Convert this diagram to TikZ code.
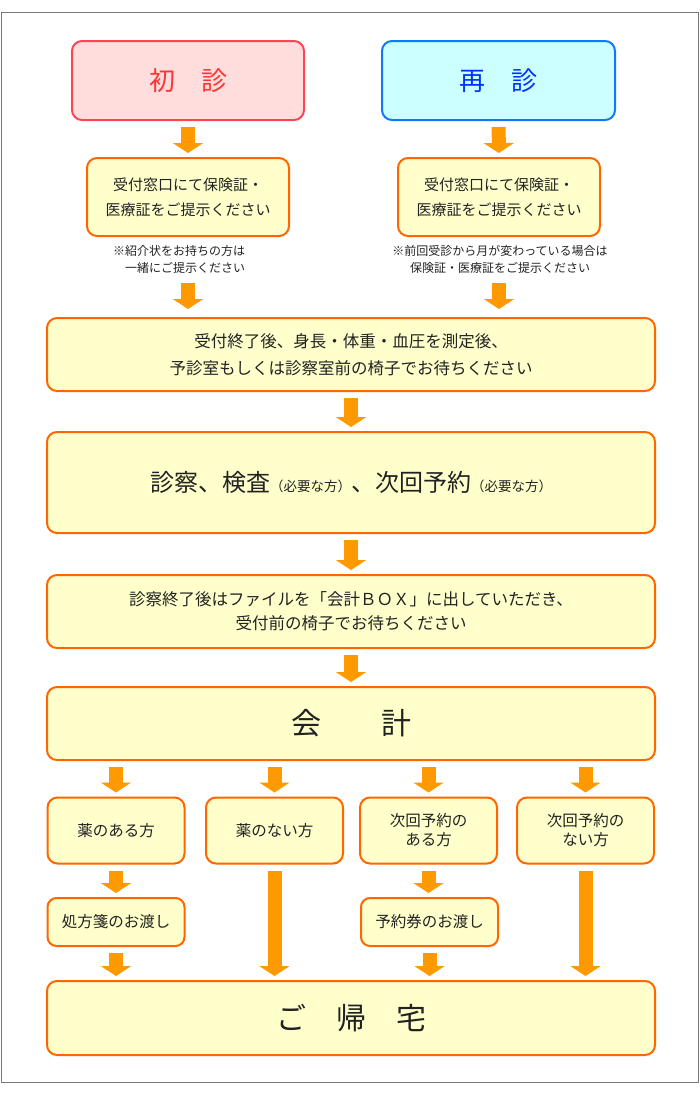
\documentclass[tikz,border=0pt]{standalone}
\usepackage{fontspec}
\setmainfont{Noto Sans CJK JP}
\usetikzlibrary{arrows.meta}
\usetikzlibrary{math}

\definecolor{framec}{HTML}{777777}
\definecolor{boxfill}{HTML}{FFFFCC}
\definecolor{boxline}{HTML}{FF6600}
\definecolor{arrowc}{HTML}{FF9900}
\definecolor{textc}{HTML}{222222}
\definecolor{firstfill}{HTML}{FFDDDD}
\definecolor{firstline}{HTML}{FF4455}
\definecolor{firsttext}{HTML}{FF3333}
\definecolor{repeatfill}{HTML}{CCFFFF}
\definecolor{repeatline}{HTML}{1177FF}
\definecolor{repeattext}{HTML}{0033FF}

\begin{document}
\begin{tikzpicture}[x=1pt,y=-1pt,
    box/.style={draw=boxline, fill=boxfill, line width=2pt, rounded corners=10pt,
      text=textc, align=center, inner sep=0pt},
    flow/.style={draw=arrowc, line width=14pt, -{Triangle[width=30pt,length=10pt]},
      shorten <=6pt, shorten >=4pt}]
      \tikzmath{
        \wBig = 608;
        \wRow = 137;
      }

      \useasboundingbox (0,0) rectangle (700,1100);
      \draw[framec, line width=1pt] (1,12) rectangle (698,1082);

      % first visit / repeat visit
      \node[box, draw=firstline, fill=firstfill, text=firsttext, minimum width=232pt, minimum height=79pt,
        font=\fontsize{26pt}{30pt}\selectfont] (First) at (188,80.5) {初　診};
      \node[box, draw=repeatline, fill=repeatfill, text=repeattext, minimum width=233pt, minimum height=79pt,
        font=\fontsize{26pt}{30pt}\selectfont] (Repeat) at (498.5,80.5) {再　診};

      \node[box, minimum width=202pt, minimum height=78pt, font=\fontsize{15pt}{25pt}\selectfont]
        (FirstDesk) at (188,197) {受付窓口にて保険証・\\医療証をご提示ください};
      \node[box, minimum width=202pt, minimum height=78pt, font=\fontsize{15pt}{25pt}\selectfont]
        (RepeatDesk) at (499,197) {受付窓口にて保険証・\\医療証をご提示ください};

      \node[text=textc, align=right, inner sep=2pt, font=\fontsize{12pt}{17pt}\selectfont]
        (FirstNote) at (179,259) {※紹介状をお持ちの方は\\一緒にご提示ください};
      \node[text=textc, align=center, inner sep=2pt, font=\fontsize{12pt}{17pt}\selectfont]
        (RepeatNote) at (500,259) {※前回受診から月が変わっている場合は\\保険証・医療証をご提示ください};

      % main flow
      \node[box, minimum width=\wBig pt, minimum height=73pt, font=\fontsize{16.5pt}{27pt}\selectfont]
        (Wait) at (351,354.5) {受付終了後、身長・体重・血圧を測定後、\\予診室もしくは診察室前の椅子でお待ちください};
      \node[box, minimum width=\wBig pt, minimum height=101pt, font=\fontsize{24pt}{28pt}\selectfont]
        (Exam) at (351,482.5) {診察、検査{\fontsize{13.5pt}{13.5pt}\selectfont （必要な方）}、次回予約{\fontsize{13.5pt}{13.5pt}\selectfont （必要な方）}};
      \node[box, minimum width=\wBig pt, minimum height=73pt, font=\fontsize{16.5pt}{24pt}\selectfont]
        (File) at (351,611.5) {診察終了後はファイルを「会計ＢＯＸ」に出していただき、\\受付前の椅子でお待ちください};
      \node[box, minimum width=\wBig pt, minimum height=73pt, font=\fontsize{30pt}{34pt}\selectfont]
        (Pay) at (351,723.5) {会　　計};

      % four branches
      \node[box, minimum width=\wRow pt, minimum height=66pt, font=\fontsize{15.5pt}{19pt}\selectfont]
        (MedYes) at (116,830.5) {薬のある方};
      \node[box, minimum width=\wRow pt, minimum height=66pt, font=\fontsize{15.5pt}{19pt}\selectfont]
        (MedNo) at (274.5,830.5) {薬のない方};
      \node[box, minimum width=\wRow pt, minimum height=66pt, font=\fontsize{15.5pt}{19pt}\selectfont]
        (ApptYes) at (428.5,830.5) {次回予約の\\ある方};
      \node[box, minimum width=\wRow pt, minimum height=66pt, font=\fontsize{15.5pt}{19pt}\selectfont]
        (ApptNo) at (585.5,830.5) {次回予約の\\ない方};

      \node[box, rounded corners=9pt, minimum width=\wRow pt, minimum height=48pt, font=\fontsize{15.5pt}{19pt}\selectfont]
        (Rx) at (116,922) {処方箋のお渡し};
      \node[box, rounded corners=9pt, minimum width=\wRow pt, minimum height=48pt, font=\fontsize{15.5pt}{19pt}\selectfont]
        (Ticket) at (429.5,922) {予約券のお渡し};

      \node[box, minimum width=\wBig pt, minimum height=74pt, font=\fontsize{30pt}{34pt}\selectfont]
        (Home) at (351,1018) {ご　帰　宅};

      % arrows
      \draw[flow] (First) -- (FirstDesk);
      \draw[flow] (Repeat) -- (RepeatDesk);
      \draw[flow, shorten <=8pt, shorten >=8pt] (FirstNote.south -| FirstDesk.south) -- (FirstDesk |- Wait.north);
      \draw[flow, shorten <=8pt, shorten >=8pt] (RepeatNote.south -| RepeatDesk.south) -- (RepeatDesk |- Wait.north);
      \draw[flow] (Wait) -- (Exam);
      \draw[flow] (Exam) -- (File);
      \draw[flow] (File) -- (Pay);
      \draw[flow] (Pay.south -| MedYes) -- (MedYes);
      \draw[flow] (Pay.south -| MedNo) -- (MedNo);
      \draw[flow] (Pay.south -| ApptYes) -- (ApptYes);
      \draw[flow] (Pay.south -| ApptNo) -- (ApptNo);
      \draw[flow] (MedYes) -- (Rx);
      \draw[flow] (ApptYes.south) -- (ApptYes |- Ticket.north);
      \draw[flow] (Rx) -- (Rx |- Home.north);
      \draw[flow] (Ticket.south) -- (Ticket |- Home.north);
      \draw[flow] (MedNo) -- (MedNo |- Home.north);
      \draw[flow] (ApptNo) -- (ApptNo |- Home.north);
    \end{tikzpicture}
\end{document}
